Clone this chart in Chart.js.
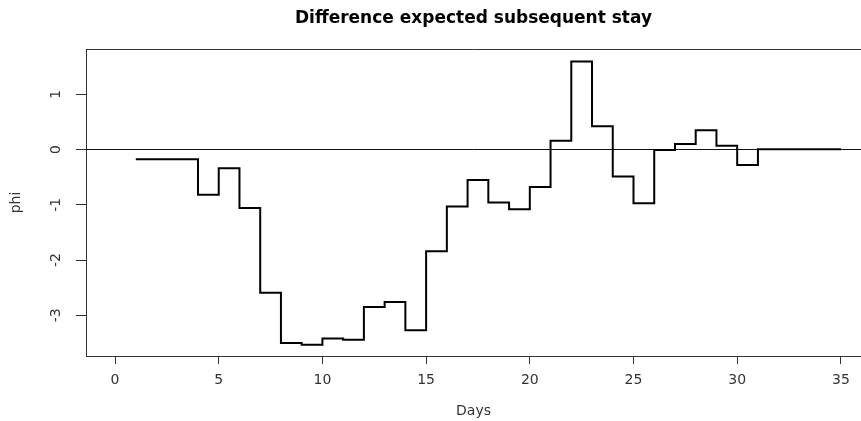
<!DOCTYPE html>
<html>
<head>
<meta charset="utf-8">
<script src="https://cdn.jsdelivr.net/npm/chart.js@4"></script>
<style>
  html, body { margin: 0; padding: 0; background: #fff; overflow: hidden; }
  #wrap { width: 861px; height: 421px; position: relative; }
</style>
</head>
<body>
<div id="wrap"><canvas id="myChart"></canvas></div>
<script>
// values (step plot, R type="s")
const days = [1, 2, 3, 4, 5, 6, 7, 8, 9, 10, 11, 12, 13, 14, 15, 16, 17, 18,
  19, 20, 21, 22, 23, 24, 25, 26, 27, 28, 29, 30, 31, 32, 33, 34, 35];
const phi = [-0.175, -0.175, -0.175, -0.82, -0.34, -1.06, -2.59, -3.50, -3.53,
  -3.42, -3.44, -2.85, -2.76, -3.27, -1.84, -1.03, -0.55, -0.96, -1.08, -0.68,
  0.16, 1.59, 0.42, -0.49, -0.97, -0.01, 0.10, 0.35, 0.07, -0.28, 0.005, 0.005,
  0.005, 0.005, 0.005];
const refLineY = 0;

const xMin = -1.4, xMax = 35.97;
const yMin = -3.735, yMax = 1.818;

const font = 'DejaVu Sans';

// top edge of the box (left/bottom come from the axis borders)
const boxPlugin = {
  id: 'box',
  afterDraw(chart) {
    const a = chart.chartArea, ctx = chart.ctx;
    ctx.save();
    ctx.strokeStyle = '#333';
    ctx.lineWidth = 1;
    ctx.beginPath();
    ctx.moveTo(a.left, a.top + 0.5);
    ctx.lineTo(a.right, a.top + 0.5);
    ctx.stroke();
    ctx.restore();
  }
};

new Chart(document.getElementById('myChart').getContext('2d'), {
  type: 'line',
  data: {
    datasets: [
      {
        label: 'phi',
        data: days.map((d, i) => ({x: d, y: phi[i]})),
        stepped: 'before',
        borderColor: '#000',
        borderWidth: 2,
        pointRadius: 0,
        fill: false
      },
      {
        label: 'zero',
        data: [{x: xMin, y: refLineY}, {x: xMax, y: refLineY}],
        borderColor: '#111',
        borderWidth: 1,
        pointRadius: 0,
        fill: false
      }
    ]
  },
  options: {
    responsive: true,
    maintainAspectRatio: false,
    animation: false,
    layout: {padding: 0},
    plugins: {
      legend: {display: false},
      tooltip: {enabled: false},
      title: {
        display: true,
        text: 'Difference expected subsequent stay',
        fullSize: false,
        color: '#000',
        font: {family: font, size: 17, weight: 'bold'},
        padding: {top: 8, bottom: 20.6}
      }
    },
    scales: {
      x: {
        type: 'linear',
        min: xMin,
        max: xMax,
        afterFit(scale) { scale.height = 65; },
        border: {display: true, color: '#333', width: 1},
        grid: {drawOnChartArea: false, tickLength: 8, tickColor: '#333'},
        ticks: {
          stepSize: 5,
          includeBounds: false,
          maxRotation: 0,
          color: '#333',
          padding: 8,
          font: {family: font, size: 14}
        },
        title: {
          display: true,
          text: 'Days',
          color: '#333',
          font: {family: font, size: 14},
          padding: {top: 0, bottom: 1}
        }
      },
      y: {
        type: 'linear',
        min: yMin,
        max: yMax,
        afterFit(scale) { scale.width = 86; },
        border: {display: true, color: '#333', width: 1},
        grid: {drawOnChartArea: false, tickLength: 10, tickColor: '#333'},
        ticks: {
          stepSize: 1,
          includeBounds: false,
          minRotation: 90,
          maxRotation: 90,
          crossAlign: 'center',
          color: '#333',
          padding: 13,
          font: {family: font, size: 14}
        },
        title: {
          display: true,
          text: 'phi',
          color: '#333',
          font: {family: font, size: 14},
          padding: {top: 8, bottom: 0}
        }
      }
    }
  },
  plugins: [boxPlugin]
});
</script>
</body>
</html>
